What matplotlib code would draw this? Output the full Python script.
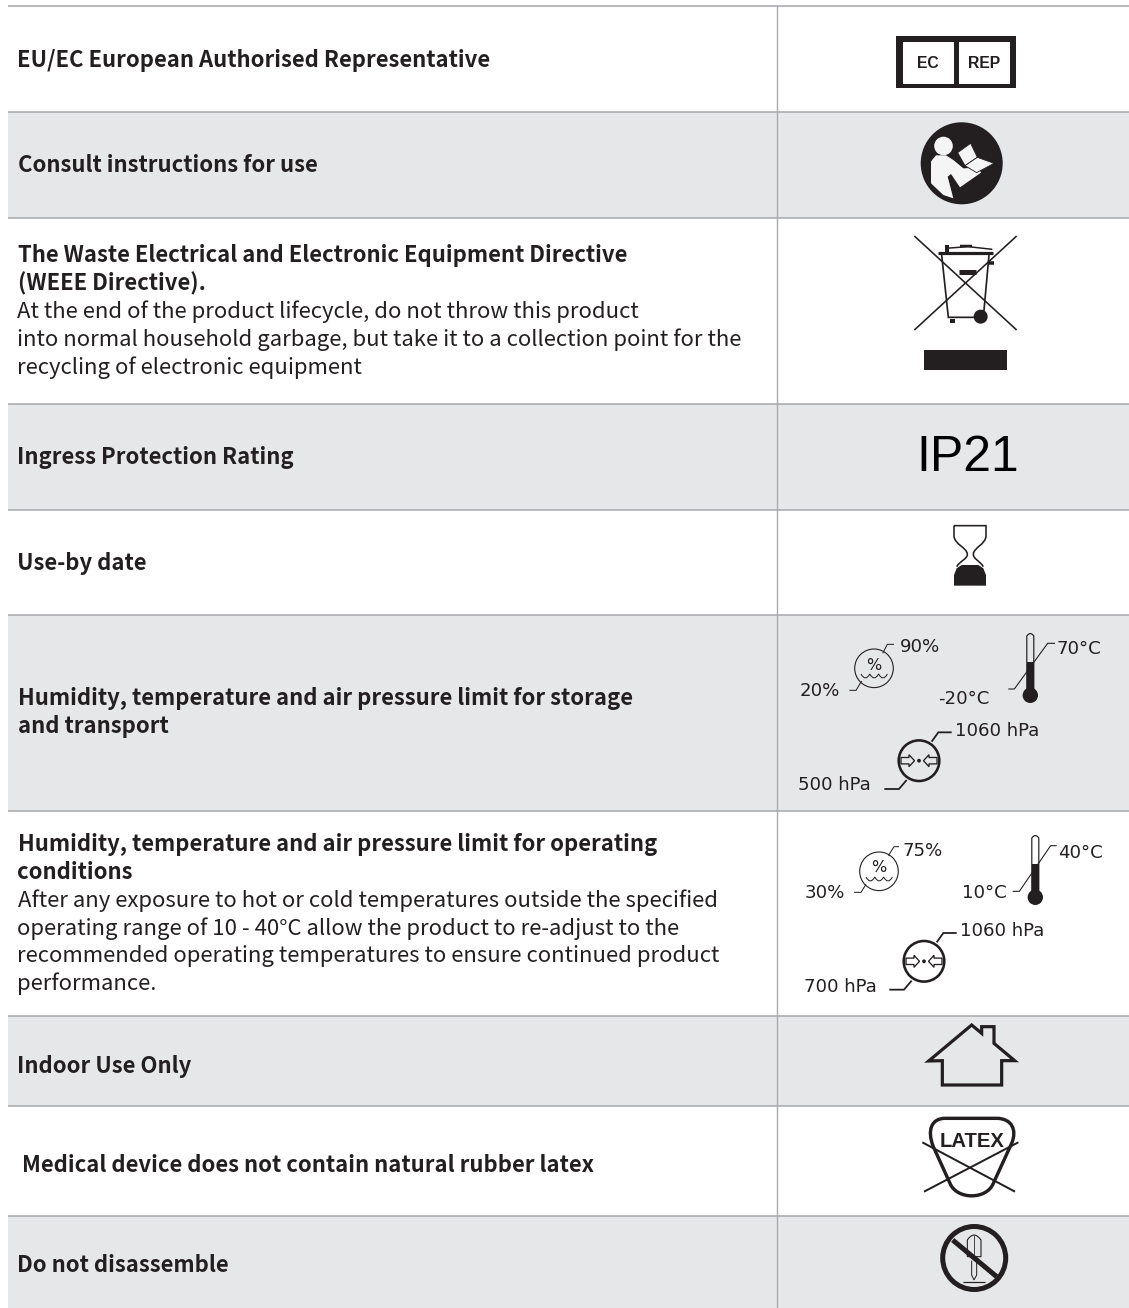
import matplotlib
matplotlib.use('Agg')
import matplotlib.pyplot as plt
from matplotlib.patches import Circle, Rectangle, Polygon, PathPatch
from matplotlib.path import Path

W, H = 1129, 1308
INK = '#231f20'
RULE = '#a9abae'
SHADE = '#e6e7e8'
CJK = 'Noto Sans CJK SC'

# table structure
row_edges = [6, 112, 218, 404, 510, 615, 811, 1016, 1106, 1216, 1308]
row_shaded = [False, True, False, True, False, True, False, True, False, True]
left_edge = 8
col_split = 777

# left column text: text, weight, x, baseline
eu_lines = [('EU/EC European Authorised Representative', 'bold', 17, 67.5)]
consult_lines = [('Consult instructions for use', 'bold', 17.5, 172.5)]
weee_lines = [
    ('The Waste Electrical and Electronic Equipment Directive', 'bold', 17.5, 262),
    ('(WEEE Directive).', 'bold', 17.5, 290),
    ('At the end of the product lifecycle, do not throw this product', 'normal', 17, 318),
    ('into normal household garbage, but take it to a collection point for the', 'normal', 17, 346),
    ('recycling of electronic equipment', 'normal', 17, 374),
]
ingress_lines = [('Ingress Protection Rating', 'bold', 17, 464)]
useby_lines = [('Use-by date', 'bold', 17, 570)]
storage_lines = [
    ('Humidity, temperature and air pressure limit for storage', 'bold', 17.5, 705.5),
    ('and transport', 'bold', 17.5, 733.5),
]
operating_lines = [
    ('Humidity, temperature and air pressure limit for operating', 'bold', 17.5, 850.5),
    ('conditions', 'bold', 17.5, 879),
    ('After any exposure to hot or cold temperatures outside the specified', 'normal', 18, 906.5),
    ('operating range of 10 - 40°C allow the product to re-adjust to the', 'normal', 17, 934.5),
    ('recommended operating temperatures to ensure continued product', 'normal', 17, 962),
    ('performance.', 'normal', 17, 990),
]
indoor_lines = [('Indoor Use Only', 'bold', 17, 1073.5)]
latex_lines = [('Medical device does not contain natural rubber latex', 'bold', 22, 1171.5)]
disassemble_lines = [('Do not disassemble', 'bold', 17, 1271.5)]

# climate limit labels: text, x, y
storage_labels = [('90%', 899.5, 647.5), ('20%', 800, 691.5), ('70°C', 1056.5, 648.5), ('-20°C', 938.5, 699.5),
                  ('1060 hPa', 955, 730.5), ('500 hPa', 798.5, 785.5)]
operating_labels = [('75%', 903, 850.5), ('30%', 805, 893.5), ('40°C', 1058.5, 852.5), ('10°C', 962, 893.5),
                    ('1060 hPa', 960, 931.5), ('700 hPa', 803.5, 986.5)]

fig = plt.figure(figsize=(W / 100, H / 100), dpi=100)
ax = fig.add_axes([0, 0, 1, 1])
ax.set_xlim(0, W)
ax.set_ylim(H, 0)
ax.axis('off')


def px(v):
    return v * 0.72  # pixel width to points


def zoomed(points, ox, oy):
    return [(ox + x / 3, oy + y / 3) for x, y in points]


def line(points, lw=1.0, color=INK, cap='butt'):
    xs, ys = zip(*points)
    ax.plot(xs, ys, color=color, lw=px(lw), solid_capstyle=cap, solid_joinstyle='miter', zorder=3)


def curve(verts, codes, fc='none', lw=1.0, ec=INK, z=3):
    ax.add_patch(PathPatch(Path(verts, codes), fc=fc, ec=ec, lw=px(lw), zorder=z))


def ec_rep():
    ax.add_patch(Rectangle((896, 36), 120, 52, fc=INK, ec='none', zorder=3))
    ax.add_patch(Rectangle((903, 42), 51, 41.5, fc='white', ec='none', zorder=3))
    ax.add_patch(Rectangle((959, 42), 51, 41.5, fc='white', ec='none', zorder=3))
    ax.text(928.3, 63.7, 'EC', family='Liberation Sans', weight='bold', fontsize=11.3,
            color=INK, ha='center', va='center', zorder=4)
    ax.text(984.3, 63.7, 'REP', family='Liberation Sans', weight='bold', fontsize=11.3,
            color=INK, ha='center', va='center', zorder=4)


def reader():
    pale = '#f5f5f5'
    ax.add_patch(Circle((961.7, 163.3), 41, fc=INK, ec='none', zorder=3))
    ax.add_patch(Circle((943.5, 146), 9.3, fc=pale, ec='none', zorder=4))
    body = [(453, 484), (468, 466), (498, 466), (520, 480), (550, 505), (596, 503), (603, 518),
            (540, 562), (513, 522), (503, 530), (520, 595), (490, 585), (453, 550)]
    ax.add_patch(Polygon(zoomed(body, 780, 0), fc=pale, ec='none', zorder=4))
    page_a = [(533, 458), (572, 430), (592, 472), (555, 497)]
    page_b = [(592, 472), (642, 490), (590, 518), (555, 497)]
    ax.add_patch(Polygon(zoomed(page_a, 780, 0), fc=pale, ec=INK, lw=0.6, zorder=5))
    ax.add_patch(Polygon(zoomed(page_b, 780, 0), fc=pale, ec=INK, lw=0.6, zorder=5))


def wheelie_bin():
    for a, b in [((28, 18), (335, 300)), ((335, 18), (28, 300))]:
        line(zoomed([a, b], 905, 230), lw=1.6)
    line(zoomed([(110, 75), (130, 262), (235, 262), (252, 75)], 905, 230), lw=1.7)
    line(zoomed([(100, 68), (265, 68)], 905, 230), lw=3.2)
    line(zoomed([(120, 55), (190, 50), (262, 58)], 905, 230), lw=1.5)
    line(zoomed([(127, 45), (127, 66)], 905, 230), lw=4)
    line(zoomed([(165, 47), (200, 47)], 905, 230), lw=2.5)
    line(zoomed([(163, 127), (212, 127)], 905, 230), lw=5)
    line(zoomed([(252, 100), (266, 100)], 905, 230), lw=3.5)
    line(zoomed([(135, 272), (150, 272)], 905, 230), lw=4)
    ax.add_patch(Circle((905 + 227 / 3, 230 + 260 / 3), 7, fc=INK, ec='none', zorder=3))
    ax.add_patch(Rectangle((924.3, 350), 83, 20, fc=INK, ec='none', zorder=3))


def hourglass():
    outline = zoomed([(72, 32), (168, 32), (168, 62), (168, 88), (130, 98), (130, 118),
                      (130, 132), (150, 138), (160, 155),
                      (80, 155), (90, 138), (112, 132), (112, 118), (112, 98), (72, 88), (72, 62), (72, 32)], 930, 515)
    codes = ([Path.MOVETO, Path.LINETO, Path.LINETO] + [Path.CURVE4] * 6 +
             [Path.MOVETO] + [Path.CURVE4] * 6 + [Path.LINETO])
    curve(outline, codes, lw=1.6)
    fill = zoomed([(72, 212), (168, 212), (168, 180), (160, 160), (145, 150), (95, 150), (80, 160), (72, 180)], 930, 515)
    ax.add_patch(Polygon(fill, fc=INK, ec='none', zorder=3))


def humidity(ox, oy, top, bottom):
    ax.add_patch(Circle((874 + ox, 668.3 + oy), 19.3, fc='none', ec=INK, lw=px(1.1), zorder=3))
    ax.text(874 + ox, 665 + oy, '%', family='DejaVu Sans', fontsize=11.5, color=INK,
            ha='center', va='center', zorder=4)
    x0, y0 = 861 + ox, 674 + oy
    verts = [(x0, y0)]
    codes = [Path.MOVETO]
    for i in range(3):
        verts += [(x0 + 4.4 + i * 8.8, y0 + 8), (x0 + 8.8 + i * 8.8, y0)]
        codes += [Path.CURVE3, Path.CURVE3]
    curve(verts, codes, lw=1.0)
    line(top, lw=1.0)
    line(bottom, lw=1.0)


def thermometer(ox, oy, leader):
    x = 1030.3 + ox
    curve([(x - 3.5, 695 + oy), (x - 3.5, 636 + oy), (x, 631 + oy), (x + 3.5, 636 + oy), (x + 3.5, 695 + oy)],
          [Path.MOVETO, Path.LINETO, Path.CURVE3, Path.CURVE3, Path.LINETO], lw=1.2)
    ax.add_patch(Rectangle((x - 3.5, 661.7 + oy), 7, 33, fc=INK, ec='none', zorder=3))
    ax.add_patch(Circle((x, 695.3 + oy), 7.7, fc=INK, ec='none', zorder=3))
    line(leader, lw=1.1)


def pressure(ox, oy, top, bottom):
    cx, cy = 919 + ox, 760.7 + oy
    ax.add_patch(Circle((cx, cy), 20.3, fc='none', ec=INK, lw=px(2.6), zorder=3))
    ax.add_patch(Circle((cx, cy), 1.9, fc=INK, ec='none', zorder=3))
    for s in (-1, 1):
        arrow = [(s * 18, -3.2), (s * 10, -3.2), (s * 10, -6), (s * 4.5, 0), (s * 10, 6), (s * 10, 3.2), (s * 18, 3.2)]
        ax.add_patch(Polygon([(cx + a, cy + b) for a, b in arrow], fc='none', ec=INK, lw=px(1.3), zorder=3))
    line(top, lw=1.8)
    line(bottom, lw=1.8)


def house():
    outline = [(146, 153), (275, 45), (305, 70), (305, 50), (342, 50), (342, 100), (404, 152), (365, 152),
               (365, 225), (187, 225), (187, 152)]
    ax.add_patch(Polygon(zoomed(outline, 880, 1010), fc='none', ec=INK, lw=px(3.2), joinstyle='miter', zorder=3))


def latex():
    pts = zoomed([(195, 325), (350, 325), (395, 325), (412, 360), (395, 400), (340, 520), (320, 570),
                  (230, 570), (210, 520), (160, 410), (140, 360), (155, 325), (195, 325)], 880, 1010)
    codes = [Path.MOVETO, Path.LINETO, Path.CURVE4, Path.CURVE4, Path.CURVE4, Path.LINETO,
             Path.CURVE4, Path.CURVE4, Path.CURVE4, Path.LINETO, Path.CURVE4, Path.CURVE4, Path.CURVE4]
    curve(pts, codes, lw=3.4)
    ax.text(971.7, 1141.5, 'LATEX', family='Liberation Sans', weight='bold', fontsize=14.6, color=INK,
            ha='center', va='center', zorder=4)
    line(zoomed([(127, 397), (405, 545)], 880, 1010), lw=2)
    line(zoomed([(415, 397), (132, 545)], 880, 1010), lw=2)


def no_disassemble():
    ax.add_patch(Circle((974.2, 1258), 31.5, fc='none', ec=INK, lw=px(5), zorder=3))
    line(zoomed([(218, 690), (350, 800)], 880, 1010), lw=5)
    handle = [(262, 740), (262, 690), (282, 660), (303, 690), (303, 740), (262, 740)]
    curve(zoomed(handle, 880, 1010),
          [Path.MOVETO, Path.LINETO, Path.CURVE3, Path.CURVE3, Path.LINETO, Path.CLOSEPOLY], lw=1.1)
    line(zoomed([(282, 675), (282, 738)], 880, 1010), lw=0.8)
    line(zoomed([(275, 752), (275, 795), (282, 810), (290, 795), (290, 752)], 880, 1010), lw=1)
    line(zoomed([(250, 815), (315, 815)], 880, 1010), lw=1.2)


# rows
for top, bottom, shaded in zip(row_edges[:-1], row_edges[1:], row_shaded):
    if shaded:
        ax.add_patch(Rectangle((left_edge, top), W - left_edge, bottom - top, fc=SHADE, ec='none', zorder=1))
for y in row_edges[:-1]:
    ax.plot([left_edge, W], [y, y], color=RULE, lw=px(1.6), solid_capstyle='butt', zorder=2)
ax.plot([col_split, col_split], [row_edges[0], row_edges[-1]], color=RULE, lw=px(1.4), zorder=2)

# left column
for lines in (eu_lines, consult_lines, weee_lines, ingress_lines, useby_lines, storage_lines,
              operating_lines, indoor_lines, latex_lines, disassemble_lines):
    for text, weight, x, y in lines:
        size = 15.9 if weight == 'bold' else 15.93
        ax.text(x, y, text, family=CJK, weight=weight, fontsize=size, color=INK, ha='left', va='baseline', zorder=4)

# right column
ec_rep()
reader()
wheelie_bin()
ax.text(968, 458, 'IP21', family='Liberation Sans', fontsize=36, color='black', ha='center', va='center', zorder=4)
hourglass()

humidity(0, 0, zoomed([(308, 115), (322, 88), (342, 88)], 780, 615),
         zoomed([(245, 198), (228, 226), (208, 226)], 780, 615))
thermometer(0, 0, zoomed([(685, 222), (703, 222), (803, 85), (825, 85)], 780, 615))
pressure(0, 0, zoomed([(455, 380), (475, 352), (515, 352)], 780, 615),
         zoomed([(380, 495), (357, 522), (313, 522)], 780, 615))
humidity(5, 203, zoomed([(325, 722), (342, 695), (357, 695)], 780, 615),
         zoomed([(258, 808), (243, 832), (222, 832)], 780, 615))
thermometer(5, 202, zoomed([(698, 829), (718, 829), (812, 692), (830, 692)], 780, 615))
pressure(5, 200.6, zoomed([(470, 982), (490, 954), (530, 954)], 780, 615),
         zoomed([(395, 1097), (372, 1124), (328, 1124)], 780, 615))
for text, x, y in storage_labels + operating_labels:
    ax.text(x, y, text, family='DejaVu Sans', fontsize=13.1, color=INK, ha='left', va='center', zorder=4)

house()
latex()
no_disassemble()

fig.savefig('out.png', dpi=100, facecolor='white')
